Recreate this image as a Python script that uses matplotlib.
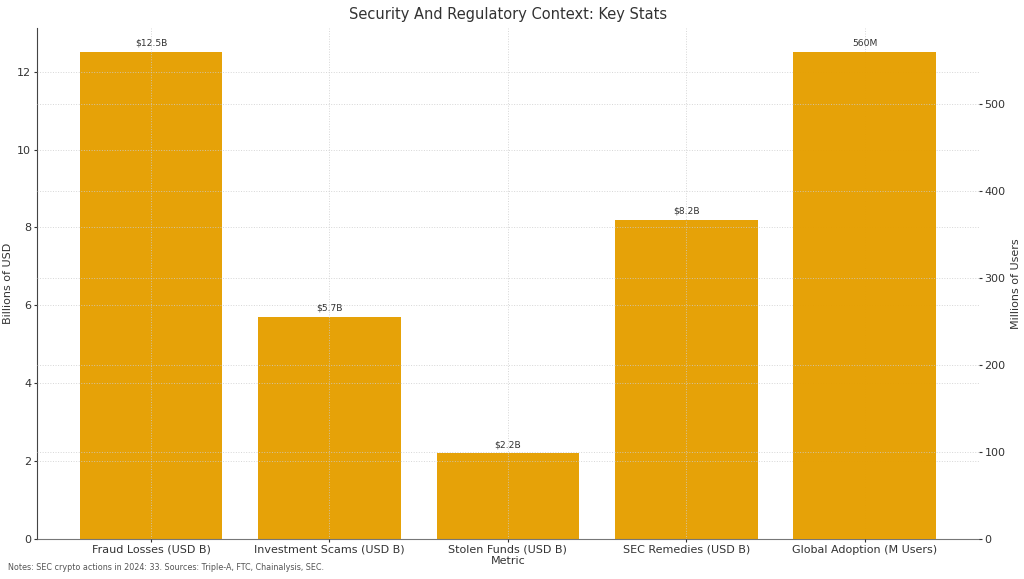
import matplotlib.pyplot as plt
import numpy as np

# Data -----------------------------------------------------------------------------------------------------------------

metrics = ["Fraud Losses (USD B)", "Investment Scams (USD B)", "Stolen Funds (USD B)",
           "SEC Remedies (USD B)", "Global Adoption (M Users)"]
usd_values = [12.5, 5.7, 2.2, 8.2]       # billions, left axis
users_values = [560]                     # millions, right axis
usd_labels = ["$12.5B", "$5.7B", "$2.2B", "$8.2B"]
users_labels = ["560M"]
note = "Notes: SEC crypto actions in 2024: 33. Sources: Triple-A, FTC, Chainalysis, SEC."

bar_color = "#E69F00"
text_color = "#333333"

# Plot -----------------------------------------------------------------------------------------------------------------

fig, ax = plt.subplots(figsize=(10.24, 5.79), dpi=100)
ax2 = ax.twinx()

x = np.arange(len(metrics))
x_usd = x[:len(usd_values)]
x_users = x[len(usd_values):]

bars1 = ax.bar(x_usd, usd_values, width=0.8, color=bar_color, alpha=0.97, zorder=1)
bars2 = ax2.bar(x_users, users_values, width=0.8, color=bar_color, alpha=0.97, zorder=1)

ax.set_ylim(0, max(usd_values) * 1.05)
ax2.set_ylim(0, max(users_values) * 1.05)
ax.set_xlim(-0.64, len(metrics) - 0.36)

for b, lab in zip(bars1, usd_labels):
    ax.annotate(lab, (b.get_x() + b.get_width() / 2, b.get_height()), xytext=(0, 3),
                textcoords="offset points", ha="center", va="bottom", fontsize=6.6, color=text_color)
for b, lab in zip(bars2, users_labels):
    ax2.annotate(lab, (b.get_x() + b.get_width() / 2, b.get_height()), xytext=(0, 3),
                 textcoords="offset points", ha="center", va="bottom", fontsize=6.6, color=text_color)

ax.set_xticks(x)
ax.set_xticklabels(metrics, fontsize=8, color=text_color)
ax.set_xlabel("Metric", fontsize=8, color=text_color, labelpad=1)
ax.set_ylabel("Billions of USD", fontsize=8, color=text_color, labelpad=3)
ax2.set_ylabel("Millions of Users", fontsize=8, color=text_color, labelpad=4)
ax.set_title("Security And Regulatory Context: Key Stats", fontsize=10.5, color=text_color, pad=6)

ax.tick_params(axis="both", labelsize=8, colors=text_color, length=2, pad=2)
ax2.tick_params(axis="y", labelsize=8, colors=text_color, length=2, pad=2)

ax.set_axisbelow(False)
ax2.set_axisbelow(False)
ax.grid(True, linestyle=":", linewidth=0.7, color="#cccccc", alpha=0.8, zorder=3)
ax2.grid(True, axis="y", linestyle=":", linewidth=0.7, color="#cccccc", alpha=0.8, zorder=3)

for a in (ax, ax2):
    a.spines["top"].set_visible(False)
    a.spines["right"].set_visible(False)
ax2.spines["left"].set_visible(False)
ax2.spines["bottom"].set_visible(False)
ax.spines["left"].set_color("#444444")
ax.spines["bottom"].set_color("#777777")

fig.text(0.008, 0.012, note, fontsize=5.8, color="#555555", ha="left", va="bottom")

plt.subplots_adjust(left=0.036, right=0.956, top=0.952, bottom=0.069)
plt.savefig("out.png", dpi=100)
